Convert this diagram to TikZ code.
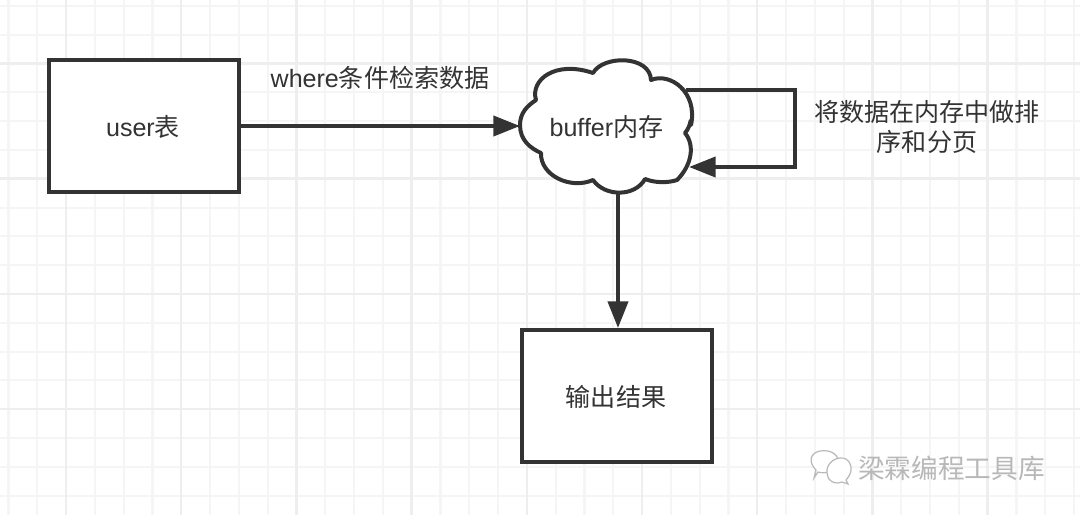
\documentclass[tikz,border=0pt]{standalone}
\usepackage{fontspec}
\setmainfont{Liberation Sans}
\newfontfamily\cjk{Noto Sans CJK SC}
\usetikzlibrary{arrows.meta}
\definecolor{ink}{HTML}{333333}
\definecolor{gridminor}{HTML}{F5F5F5}
\definecolor{gridmajor}{HTML}{EEEEEE}
\definecolor{mark}{HTML}{B8B8B8}
\tikzset{
  box/.style={draw=ink,line width=3pt,fill=white,minimum width=143pt,minimum height=99pt,inner sep=0pt},
  lbl/.style={text=ink,inner sep=0pt,align=center,font=\fontsize{18.8pt}{22.5pt}\selectfont},
  conn/.style={draw=ink,line width=3pt,-{Triangle[length=20pt,width=15pt]}},
  wm/.style={text=mark,inner sep=0pt,font=\cjk\fontsize{20pt}{24pt}\selectfont},
  bubble/.style={draw=mark,line width=0.9pt,fill=white}
}
\begin{document}
\begin{tikzpicture}[x=0.75pt,y=-0.75pt]
\useasboundingbox (0,0) rectangle (1080,515);
\fill[white] (0,0) rectangle (1080,515);
% grid
\foreach \i in {0,...,37}{
  \pgfmathsetmacro{\gx}{8.5+28.8*\i}
  \draw[gridminor,line width=1.6pt] (\gx,0) -- (\gx,515);
}
\foreach \i in {0,...,18}{
  \pgfmathsetmacro{\gy}{6+28.8*\i}
  \draw[gridminor,line width=1.6pt] (0,\gy) -- (1080,\gy);
}
\foreach \i in {0,...,9}{
  \pgfmathsetmacro{\gx}{66+115.2*\i}
  \draw[gridmajor,line width=1.9pt] (\gx,0) -- (\gx,515);
}
\foreach \i in {0,...,4}{
  \pgfmathsetmacro{\gy}{63.5+115.2*\i}
  \draw[gridmajor,line width=1.9pt] (0,\gy) -- (1080,\gy);
}
% boxes
\node[box] (user) at (144,125.5) {};
\node[lbl] (usertext) at (143,127) {user{\cjk 表}};
\node[box] (out) at (617,396) {};
\node[lbl] (outtext) at (616,397) {\cjk 输出结果};
% cloud
\coordinate (cW) at (520,126);
\coordinate (cS) at (618,194);
\coordinate (cE1) at (686,90);
\coordinate (cE2) at (689,167);
\filldraw[draw=ink,fill=white,line width=3pt,line join=round]
  (520,125) .. controls (520,113) and (527,106) .. (536,100)
  .. controls (530,80) and (555,60) .. (593,73)
  .. controls (603,55) and (650,55) .. (651,80)
  .. controls (670,72) and (698,92) .. (691,125)
  .. controls (690,115) and (692,125) .. (685,133)
  .. controls (695,145) and (692,165) .. (677,180)
  .. controls (668,183) and (655,183) .. (645,179)
  .. controls (635,197) and (605,197) .. (593,180)
  .. controls (570,190) and (540,175) .. (541,153)
  .. controls (530,148) and (520,140) .. (520,125) -- cycle;
\node[lbl] (cloudtext) at (606.5,127) {buffer{\cjk 内存}};
% connectors
\draw[conn] (user.east |- cW) -- (cW);
\draw[conn] (cS) -- (cS |- out.north);
\coordinate (loopA) at (795,90);
\coordinate (loopB) at (795,167);
\draw[conn,line join=miter] (cE1) -- (loopA) -- (loopB) -- (cE2);
% labels
\node[lbl] (lab1) at (380,78) {where{\cjk 条件检索数据}};
\node[lbl] (lab2) at (927,127) {\cjk 将数据在内存中做排\\\cjk 序和分页};
% watermark
\draw[bubble] (816,470) .. controls (808,462) and (810,453) .. (820,451) .. controls (832,449) and (840,456) .. (838,464) .. controls (836,472) and (824,474) .. (818,472) -- (814,478) -- cycle;
\draw[bubble] (829,479) .. controls (822,466) and (834,458) .. (840,458) .. controls (850,457) and (853,468) .. (850,474) .. controls (848,478) and (846,480) .. (846,480) -- (848,484) -- (842,482) .. controls (837,484) and (832,483) .. (829,479) -- cycle;
\node[wm,anchor=west] (wmtext) at (858,468) {梁霖编程工具库};
\end{tikzpicture}
\end{document}
